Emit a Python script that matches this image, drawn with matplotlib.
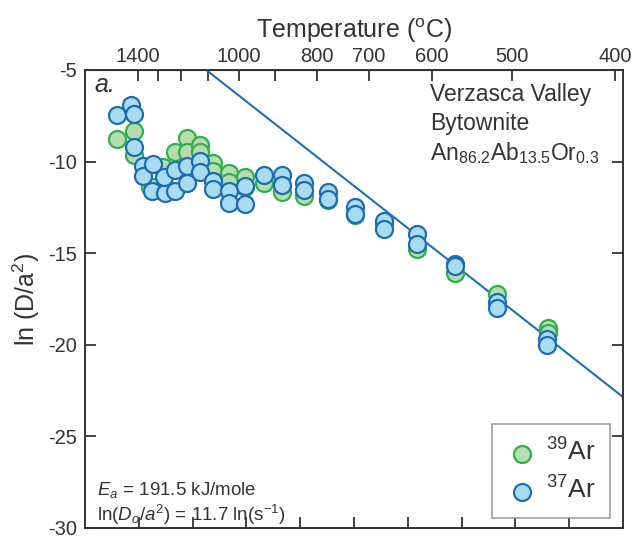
import numpy as np
import matplotlib
matplotlib.use('Agg')
import matplotlib.pyplot as plt

plt.rcParams['font.family'] = ['Liberation Sans', 'DejaVu Sans']
plt.rcParams['mathtext.fontset'] = 'custom'
plt.rcParams['mathtext.rm'] = 'Liberation Sans'
plt.rcParams['mathtext.it'] = 'Liberation Sans:italic'
plt.rcParams['axes.unicode_minus'] = False

# x = 10^4/T (K), y = ln(D/a^2)
x39 = [5.60, 5.91, 5.91, 6.21, 6.27, 6.45, 6.67, 6.89, 6.89, 7.14, 7.14, 7.38, 7.38,
       7.68, 7.68, 7.98, 7.98, 8.33, 8.67, 9.07, 9.52, 10.02, 10.56, 11.18, 11.88,
       12.66, 13.61, 13.61]
y39 = [-8.76, -8.35, -9.67, -11.4, -11.4, -10.3, -9.49, -8.70, -9.5, -9.12, -9.5, -10.09,
       -10.5, -10.64, -11.1, -10.86, -11.4, -11.2, -11.68, -11.9, -12.1, -12.9, -13.4,
       -14.8, -16.08, -17.23, -19.1, -19.37]

x37 = [5.60, 5.85, 5.91, 5.91, 6.08, 6.08, 6.27, 6.24, 6.49, 6.47, 6.67, 6.67, 6.89,
       6.89, 7.14, 7.14, 7.38, 7.38, 7.68, 7.68, 7.98, 7.98, 8.33, 8.67, 8.67, 9.07,
       9.07, 9.52, 9.52, 10.02, 10.02, 10.56, 10.56, 11.18, 11.18, 11.88, 11.88, 12.66,
       12.66, 13.58, 13.58]
y37 = [-7.47, -6.9, -7.4, -9.2, -10.27, -10.77, -10.13, -11.6, -11.74, -10.82, -10.46,
       -11.6, -10.27, -11.2, -9.95, -10.59, -11.04, -11.5, -11.6, -12.24, -11.32, -12.3,
       -10.71, -10.71, -11.26, -11.2, -11.55, -11.68, -12.05, -12.47, -12.87, -13.24,
       -13.7, -13.94, -14.48, -15.58, -15.7, -17.64, -18.0, -19.69, -20.0]

# Arrhenius fit
Ea = 191.5      # kJ/mole
lnD0a2 = 11.7
R = 8.314e-3

temp_ticks = [1400, 1300, 1200, 1100, 1000, 900, 800, 700, 600, 500, 400]
temp_labels = ['1400', '', '', '', '1000', '', '800', '700', '600', '500', '400']

txt = '#333333'
fig = plt.figure(figsize=(6.35, 5.46), dpi=100)
ax = fig.add_axes([0.134, 0.033, 0.847, 0.839])

xf = np.linspace(5, 15, 200)
yf = lnD0a2 - Ea / R * xf / 1e4
ax.plot(xf, yf, color='#1f6fb5', lw=1.5, zorder=1)

ax.scatter(x39, y39, s=150, facecolor='#b7dcb2', edgecolor='#2eb04a', lw=1.6,
           zorder=2, label='$^{39}$Ar')
ax.scatter(x37, y37, s=150, facecolor='#a9dcf0', edgecolor='#1d6db4', lw=1.6,
           zorder=3, label='$^{37}$Ar')

ax.set_xlim(5, 15)
ax.set_ylim(-30, -5)
ax.set_xticks(range(6, 15))
ax.set_xticklabels([])
ax.set_yticks([-5, -10, -15, -20, -25, -30])
ax.tick_params(axis='both', direction='in', length=8, width=1.3, colors=txt,
               labelsize=14.5, right=True)
ax.tick_params(axis='y', pad=6)
for sp in ax.spines.values():
    sp.set_linewidth(1.4)
    sp.set_color(txt)
ax.set_ylabel('ln (D/a$^2$)', fontsize=18, color=txt, labelpad=4)

def to_c(x):
    x = np.asarray(x, dtype=float)
    with np.errstate(divide='ignore'):
        return 1e4 / x - 273.15

def to_x(t):
    t = np.asarray(t, dtype=float)
    with np.errstate(divide='ignore'):
        return 1e4 / (t + 273.15)

top = ax.secondary_xaxis('top', functions=(to_c, to_x))
top.set_xticks(temp_ticks)
top.set_xticklabels(temp_labels)
top.tick_params(direction='in', length=8, width=1.3, colors=txt, labelsize=14.5, pad=3)
top.set_xlabel('Temperature ($^\\mathrm{o}$C)', fontsize=18, color=txt, labelpad=6)

ax.text(5.18, -5.85, 'a.', fontsize=18, style='italic', color=txt, va='center')
ax.text(11.42, -6.35, 'Verzasca Valley', fontsize=16.5, color=txt, va='center')
ax.text(11.42, -7.95, 'Bytownite', fontsize=16.5, color=txt, va='center')
ax.text(11.42, -9.55, 'An$_{86.2}$Ab$_{13.5}$Or$_{0.3}$', fontsize=16.5, color=txt,
        va='center')
ax.text(5.22, -27.95, '$E_a$ = 191.5 kJ/mole', fontsize=13.5, color=txt, va='center')
ax.text(5.22, -29.3, 'ln($D_o$/$a^2$) = 11.7 ln(s$^{-1}$)', fontsize=13.5, color=txt,
        va='center')

leg = ax.legend(loc='lower right', bbox_to_anchor=(0.985, 0.01), fontsize=19,
                frameon=True, fancybox=False, handletextpad=0.3, borderpad=0.55,
                labelspacing=0.4, handlelength=1.2, borderaxespad=0.2)
leg.get_frame().set_edgecolor('#888888')
leg.get_frame().set_linewidth(1.2)
for t in leg.get_texts():
    t.set_color(txt)

fig.savefig('out.png', dpi=100)
